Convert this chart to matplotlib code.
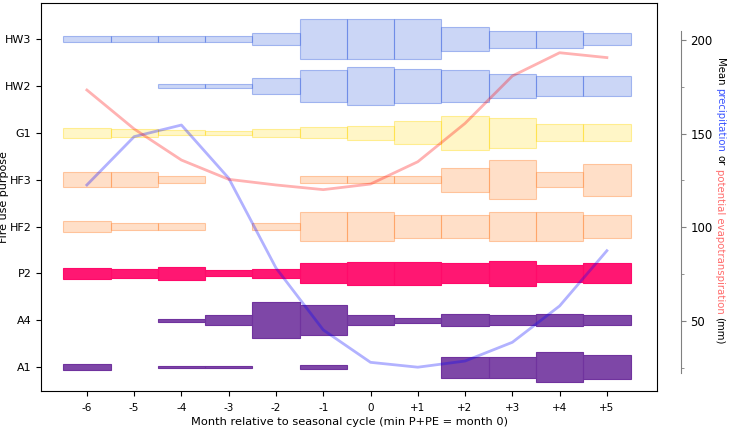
import numpy as np
import matplotlib.pyplot as plt
from matplotlib.colors import to_rgba
from matplotlib.ticker import MultipleLocator

months = np.arange(-6, 6)
month_labels = ['-6', '-5', '-4', '-3', '-2', '-1', '0', '+1', '+2', '+3', '+4', '+5']

purposes = ['A1', 'A4', 'P2', 'HF2', 'HF3', 'G1', 'HW2', 'HW3']

# relative share of each fire use purpose per month (0 = none recorded)
a1 = [0.13, 0, 0.05, 0.05, 0, 0.09, 0, 0, 0.45, 0.45, 0.65, 0.50]
a4 = [0, 0, 0.06, 0.21, 0.77, 0.63, 0.21, 0.10, 0.26, 0.21, 0.26, 0.21]
p2 = [0.22, 0.18, 0.27, 0.13, 0.18, 0.43, 0.48, 0.48, 0.43, 0.52, 0.37, 0.43]
hf2 = [0.25, 0.13, 0.13, 0, 0.13, 0.63, 0.63, 0.51, 0.51, 0.63, 0.63, 0.51]
hf3 = [0.33, 0.33, 0.16, 0, 0, 0.16, 0.16, 0.16, 0.51, 0.84, 0.33, 0.68]
g1 = [0.22, 0.16, 0.10, 0.09, 0.16, 0.23, 0.29, 0.49, 0.72, 0.64, 0.37, 0.37]
hw2 = [0, 0, 0.08, 0.08, 0.33, 0.68, 0.81, 0.72, 0.67, 0.53, 0.41, 0.41]
hw3 = [0.13, 0.13, 0.13, 0.13, 0.26, 0.87, 0.87, 0.87, 0.51, 0.36, 0.36, 0.26]

# mean precipitation and potential evapotranspiration (mm)
precip = [122.6, 148.4, 154.6, 126.2, 78.3, 45.2, 27.9, 25.3, 28.6, 38.6, 58.0, 87.5]
pet = [173.3, 152.5, 135.9, 125.6, 122.6, 120.1, 123.1, 135.0, 155.5, 180.8, 193.2, 190.6]

rows = [a1, a4, p2, hf2, hf3, g1, hw2, hw3]
colors = ['#70339e', '#70339e', '#ff0a6a', '#ff8c3c', '#ff8c3c', 'gold', 'royalblue', 'royalblue']
alphas = [0.9, 0.9, 0.95, 0.28, 0.28, 0.22, 0.27, 0.27]

fig = plt.figure(figsize=(7.3, 4.29), dpi=100)
ax = fig.add_axes([0.0562, 0.0886, 0.8438, 0.9044])

for i, (vals, c, a) in enumerate(zip(rows, colors, alphas)):
    vals = np.array(vals)
    keep = vals > 0
    edge_a = min(1.0, a + 0.15)
    ax.barh(np.full(keep.sum(), i), 1.0, left=months[keep] - 0.5,
            height=vals[keep], facecolor=to_rgba(c, a),
            edgecolor=to_rgba(c, edge_a), linewidth=0.8)

ax.set_xlim(-6.97, 6.06)
ax.set_ylim(-0.51, 7.77)
ax.set_xticks(months)
ax.set_xticklabels(month_labels, fontsize=7.5)
ax.tick_params(axis='x', pad=5)
ax.set_yticks(np.arange(len(purposes)))
ax.set_yticklabels(purposes, fontsize=8)
ax.set_xlabel('Month relative to seasonal cycle (min P+PE = month 0)', fontsize=8.2, labelpad=3)
ax.set_ylabel('Fire use purpose', fontsize=8)
ax.yaxis.set_label_coords(-0.052, 0.5)

ax2 = ax.twinx()
ax2.plot(months, precip, '-', color='blue', alpha=0.3, linewidth=2)
ax2.plot(months, pet, '-', color='red', alpha=0.3, linewidth=2)
ax2.set_ylim(12.6, 219.75)
ax2.spines['right'].set_position(('outward', 17))
ax2.spines['right'].set_bounds(22, 205)
ax2.spines['right'].set_color('gray')
for s in ['top', 'left', 'bottom']:
    ax2.spines[s].set_visible(False)
ax2.yaxis.set_major_locator(MultipleLocator(50))
ax2.yaxis.set_minor_locator(MultipleLocator(25))
ax2.tick_params(axis='y', labelsize=8.5, color='gray')
ax2.tick_params(axis='y', which='minor', length=2, color='gray')

# multi-coloured right axis label
fs = 7.3
pieces = [('Mean', 'black'), ('precipitation', '#3b55ff'), ('or', 'black'),
          ('potential evapotranspiration', '#ff6b6b'), ('(mm)', 'black')]
fig.canvas.draw()
r = fig.canvas.get_renderer()


def text_len(s):
    t = fig.text(0, 0, s, fontsize=fs, rotation=270)
    h = t.get_window_extent(r).height
    t.remove()
    return h


space = text_len('a a') - text_len('aa')
lens = [text_len(s) for s, _ in pieces]
total = sum(lens) + space * (len(pieces) - 1)
y = 429 - 201 + total / 2
for (s, c), L in zip(pieces, lens):
    fig.text(717 / 730, y / 429, s, color=c, fontsize=fs, rotation=270,
             rotation_mode='anchor', ha='left', va='baseline')
    y -= L + space

fig.savefig('out.png', dpi=100)
